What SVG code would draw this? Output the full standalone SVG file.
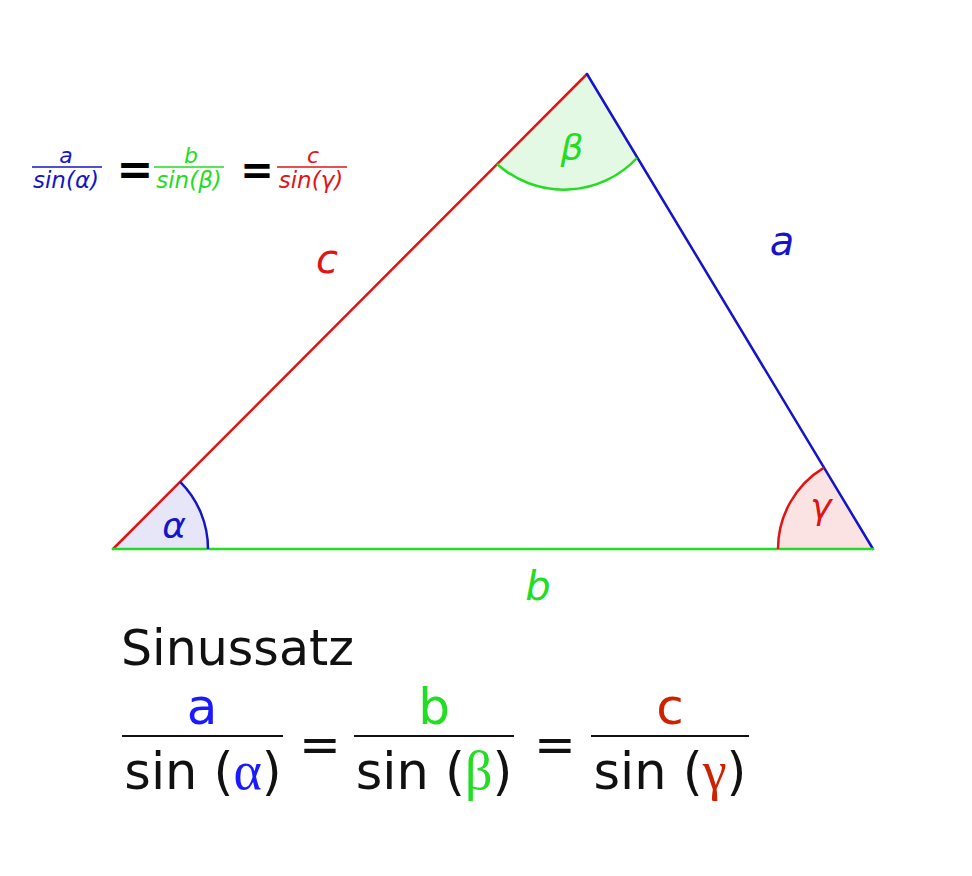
<svg xmlns="http://www.w3.org/2000/svg" width="972" height="876" viewBox="0 0 972 876">
<style>
.it{font-family:"DejaVu Sans","Liberation Sans",sans-serif;font-style:italic}
.up{font-family:"DejaVu Sans","Liberation Sans",sans-serif}
.gr{font-family:"Liberation Serif",serif}
.blue{fill:#1414c8}.green{fill:#22dd22}.red{fill:#e01414}
.eq{font-family:"DejaVu Sans","Liberation Sans",sans-serif;font-weight:bold;fill:#000}
.side{fill:none;stroke-width:2.5;stroke-linecap:round}
.arc{fill:none;stroke-width:2.5}
</style>
<rect width="972" height="876" fill="#ffffff"/>
<g id="angle-fills">
<path d="M113,549 L208,549 A95,95 0 0 0 180.2,481.8 Z" fill="#e6e6f8"/>
<path d="M587,74 L497,164 A100,100 0 0 0 637,158 Z" fill="#e4f9e4"/>
<path d="M873,549 L778,549 A95,95 0 0 1 824,467.6 Z" fill="#fbe3e3"/>
</g>
<g id="connectors">
<line id="side-c" class="side" x1="113" y1="549" x2="587" y2="74" stroke="#e01414"/>
<line id="side-a" class="side" x1="587" y1="74" x2="873" y2="549" stroke="#1414c8"/>
<line id="side-b" class="side" x1="113" y1="549" x2="873" y2="549" stroke="#22dd22"/>
</g>
<g id="angle-alpha">
<path class="arc" d="M208,549 A95,95 0 0 0 180.2,481.8" stroke="#1414c8"/>
<text class="it blue" x="174" y="538" font-size="36" text-anchor="middle">α</text>
</g>
<g id="angle-beta">
<path class="arc" d="M497,164 A100,100 0 0 0 637,158" stroke="#22dd22"/>
<text class="it green" x="572" y="160" font-size="36" text-anchor="middle">β</text>
</g>
<g id="angle-gamma">
<path class="arc" d="M778,549 A95,95 0 0 1 824,467.6" stroke="#e01414"/>
<text class="it red" x="821" y="519" font-size="36" text-anchor="middle">γ</text>
</g>
<g id="label-c"><text class="it red" x="327" y="273" font-size="40" text-anchor="middle">c</text></g>
<g id="label-a"><text class="it blue" x="782" y="255" font-size="40" text-anchor="middle">a</text></g>
<g id="label-b"><text class="it green" x="538" y="600" font-size="40" text-anchor="middle">b</text></g>
<g id="small-formula">
<text class="it blue" x="66" y="163" font-size="22" text-anchor="middle">a</text>
<line x1="32" y1="167" x2="102" y2="167" stroke="#1414c8" stroke-width="1.5"/>
<text class="it blue" x="66" y="188" font-size="23" text-anchor="middle">sin(α)</text>
<text class="eq" x="135" y="184" font-size="44" text-anchor="middle">=</text>
<text class="it green" x="191" y="163" font-size="22" text-anchor="middle">b</text>
<line x1="154" y1="167" x2="224" y2="167" stroke="#22dd22" stroke-width="1.5"/>
<text class="it green" x="189" y="188" font-size="23" text-anchor="middle">sin(β)</text>
<text class="eq" x="257" y="184" font-size="40" text-anchor="middle">=</text>
<text class="it red" x="313" y="163" font-size="22" text-anchor="middle">c</text>
<line x1="277" y1="167" x2="347" y2="167" stroke="#e01414" stroke-width="1.5"/>
<text class="it red" x="311" y="188" font-size="23" text-anchor="middle">sin(γ)</text>
</g>
<g id="sinussatz">
<text class="up" x="121" y="665" font-size="49" fill="#111">Sinussatz</text>
<text class="up" x="202" y="724" font-size="50" fill="#1a1aff" text-anchor="middle">a</text>
<line x1="122" y1="736" x2="283" y2="736" stroke="#111" stroke-width="2"/>
<text class="up" x="203" y="789" font-size="51" fill="#111" text-anchor="middle">sin (<tspan class="gr" fill="#1a1aff" font-size="54">α</tspan>)</text>
<text class="up" x="320" y="762" font-size="50" fill="#111" text-anchor="middle">=</text>
<text class="up" x="434" y="724" font-size="50" fill="#22dd22" text-anchor="middle">b</text>
<line x1="354" y1="736" x2="514" y2="736" stroke="#111" stroke-width="2"/>
<text class="up" x="434" y="789" font-size="51" fill="#111" text-anchor="middle">sin (<tspan class="gr" fill="#22dd22" font-size="54">β</tspan>)</text>
<text class="up" x="555" y="762" font-size="50" fill="#111" text-anchor="middle">=</text>
<text class="up" x="670" y="724" font-size="50" fill="#cc2200" text-anchor="middle">c</text>
<line x1="591" y1="736" x2="749" y2="736" stroke="#111" stroke-width="2"/>
<text class="up" x="670" y="789" font-size="51" fill="#111" text-anchor="middle">sin (<tspan class="gr" fill="#cc2200" font-size="54">γ</tspan>)</text>
</g>
</svg>
